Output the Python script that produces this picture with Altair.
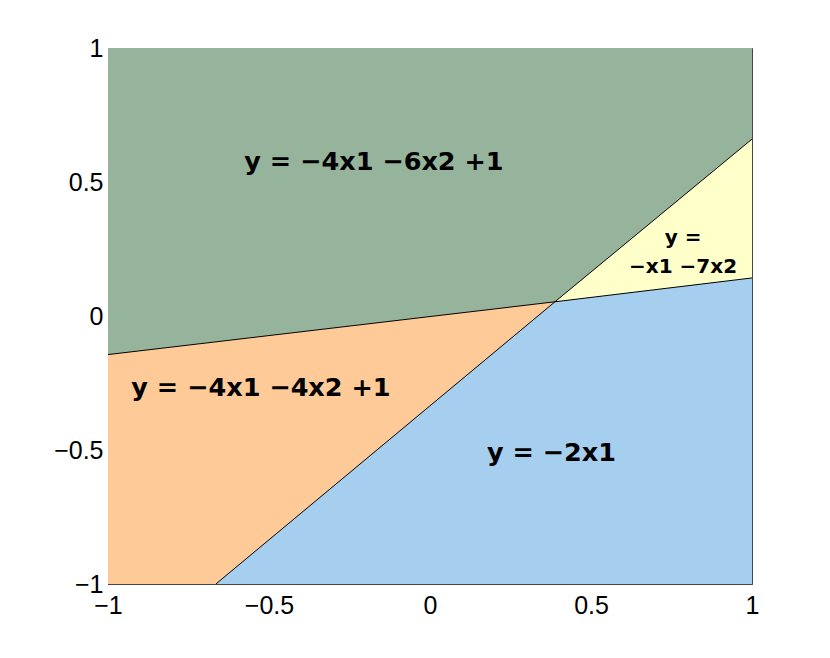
import altair as alt
import pandas as pd

# Vertices
px, py = 0.388, 0.053          # common intersection point
left_y = -0.144                # boundary meets x = -1
right_upper_y = 0.660          # boundary meets x = 1 (upper)
right_lower_y = 0.142          # boundary meets x = 1 (lower)
bottom_x = -0.665              # boundary meets y = -1

# Region fills
green_x = [-1, 1]
green_y = [1, 1]
green_y2 = [-1, -1]

orange_x = [-1, px]
orange_y = [left_y, py]
orange_y2 = [-1, -1]

blue_x = [bottom_x, px, 1]
blue_y = [-1, py, right_lower_y]
blue_y2 = [-1, -1, -1]

yellow_x = [px, 1]
yellow_y = [py, right_upper_y]
yellow_y2 = [py, right_lower_y]

# Boundary segments
seg_x = [px, px, px, px]
seg_y = [py, py, py, py]
seg_x2 = [-1, 1, bottom_x, 1]
seg_y2 = [left_y, right_lower_y, -1, right_upper_y]

# Labels
big_labels = ["y = \u22124x1 \u22126x2 +1", "y = \u22124x1 \u22124x2 +1", "y = \u22122x1"]
big_x = [-0.174, -0.525, 0.377]
big_y = [0.575, -0.269, -0.511]
small_label = ["y =\n\u2212x1 \u22127x2"]
small_x = [0.786]
small_y = [0.292]

xticks = [-1, -0.5, 0, 0.5, 1]
yticks = [-1, -0.5, 0, 0.5, 1]

GREEN = "#96b49b"
ORANGE = "#fdca98"
BLUE = "#a6ceee"
YELLOW = "#ffffca"

xs = alt.Scale(domain=[-1, 1], nice=False, zero=False)
ys = alt.Scale(domain=[-1, 1], nice=False, zero=False)
xax = alt.Axis(values=xticks, format="~g", title=None, grid=False, ticks=False,
               labelFont="Liberation Sans", labelFontSize=25, labelColor="#000",
               labelPadding=9, domainColor="#444", labelFlush=False)
yax = alt.Axis(values=yticks, format="~g", title=None, grid=False, ticks=False,
               labelFont="Liberation Sans", labelFontSize=25, labelColor="#000",
               labelPadding=5, domainColor="#444", labelFlush=False)

X = alt.X("x:Q", scale=xs, axis=xax)
Y = alt.Y("y:Q", scale=ys, axis=yax)

green = alt.Chart(pd.DataFrame({"x": green_x, "y": green_y, "y2": green_y2})).mark_area(
    color=GREEN, opacity=1).encode(x=X, y=Y, y2="y2:Q")
orange = alt.Chart(pd.DataFrame({"x": orange_x, "y": orange_y, "y2": orange_y2})).mark_area(
    color=ORANGE, opacity=1).encode(x="x:Q", y="y:Q", y2="y2:Q")
blue = alt.Chart(pd.DataFrame({"x": blue_x, "y": blue_y, "y2": blue_y2})).mark_area(
    color=BLUE, opacity=1).encode(x="x:Q", y="y:Q", y2="y2:Q")
yellow = alt.Chart(pd.DataFrame({"x": yellow_x, "y": yellow_y, "y2": yellow_y2})).mark_area(
    color=YELLOW, opacity=1).encode(x="x:Q", y="y:Q", y2="y2:Q")
segs = alt.Chart(pd.DataFrame({"x": seg_x, "y": seg_y, "x2": seg_x2, "y2": seg_y2})).mark_rule(
    color="black", strokeWidth=1).encode(x="x:Q", y="y:Q", x2="x2:Q", y2="y2:Q")
big = alt.Chart(pd.DataFrame({"t": big_labels, "x": big_x, "y": big_y})).mark_text(
    font="DejaVu Sans", fontWeight="bold", fontSize=25.5, color="black",
    align="center", baseline="middle").encode(x="x:Q", y="y:Q", text="t:N")
small = alt.Chart(pd.DataFrame({"t": small_label, "x": small_x, "y": small_y})).mark_text(
    font="DejaVu Sans", fontWeight="bold", fontSize=20, color="black",
    align="center", baseline="middle", lineBreak="\n", lineHeight=29).encode(
    x="x:Q", y="y:Q", text="t:N")

chart = alt.layer(green, orange, blue, yellow, segs, big, small).properties(
    width=644, height=536,
    background="white",
    autosize=alt.AutoSizeParams(type="none"),
    padding={"left": 100, "top": 40, "right": 70, "bottom": 66},
).configure_view(stroke="#444", strokeWidth=1)

chart.save("out.html", embed_options={"renderer": "svg", "actions": False})
